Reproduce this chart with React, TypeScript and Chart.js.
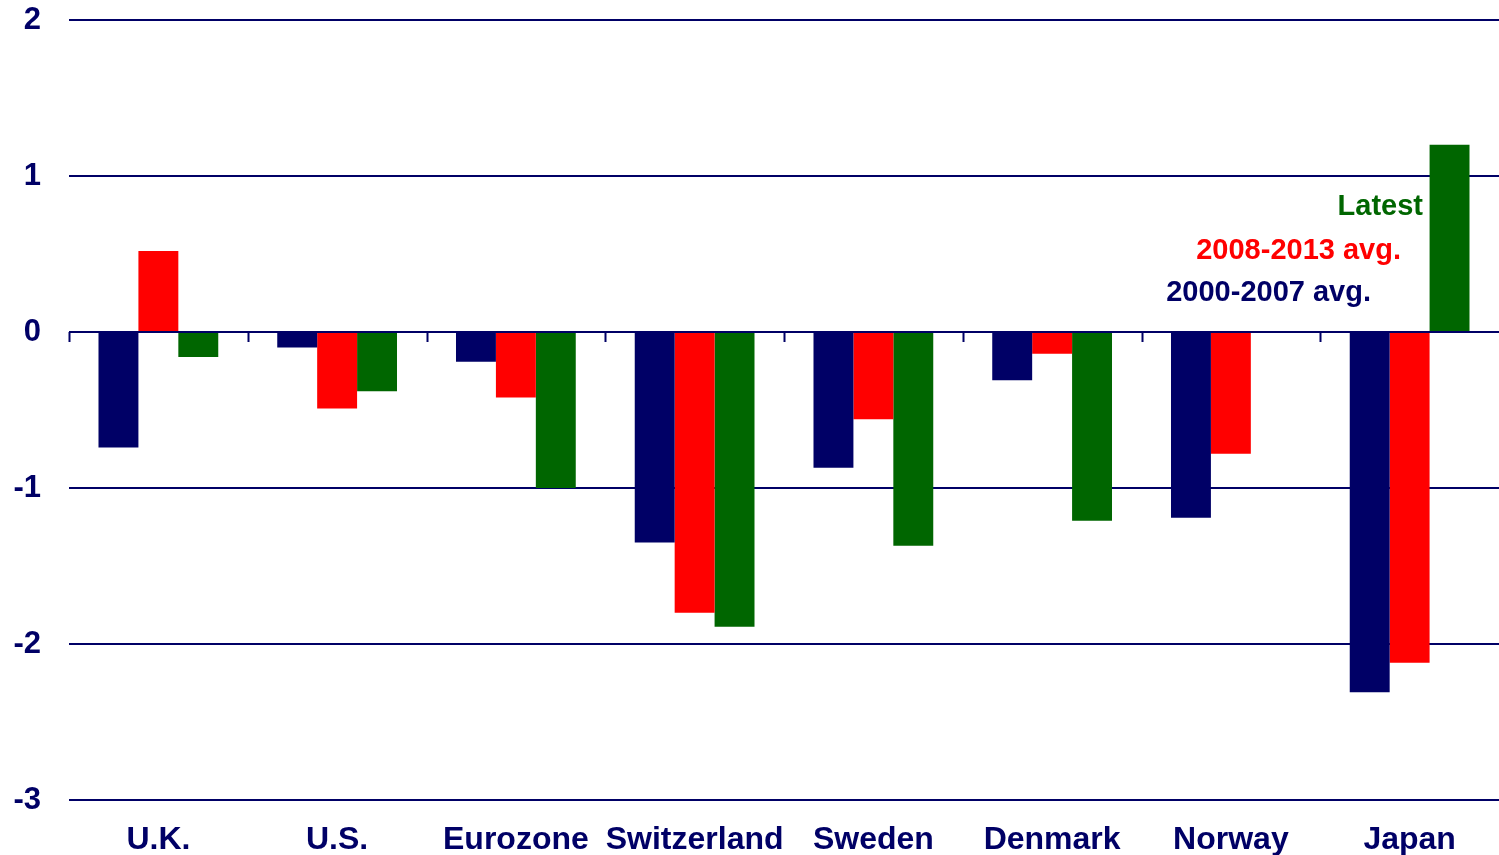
import React, { useEffect, useRef } from "react";
import { Chart, registerables } from "chart.js";

Chart.register(...registerables);

const categories = ["U.K.", "U.S.", "Eurozone", "Switzerland", "Sweden", "Denmark", "Norway", "Japan"];
const avg2000_2007 = [-0.74, -0.1, -0.19, -1.35, -0.87, -0.31, -1.19, -2.31];
const avg2008_2013 = [0.52, -0.49, -0.42, -1.8, -0.56, -0.14, -0.78, -2.12];
const latest = [-0.16, -0.38, -1.0, -1.89, -1.37, -1.21, null, 1.2];
const seriesNames = ["2000-2007 avg.", "2008-2013 avg.", "Latest"];
const yTicks = [2, 1, 0, -1, -2, -3];

const NAVY = "#000066";
const RED = "#FF0000";
const GREEN = "#006600";
const FONT = "Arial, 'Liberation Sans', sans-serif";

const zeroTicksPlugin = {
  id: "zeroTicks",
  afterDatasetsDraw(chart: any) {
    const { ctx, chartArea, scales } = chart;
    const y0 = scales.y.getPixelForValue(0);
    const n = categories.length;
    const w = (chartArea.right - chartArea.left) / n;
    ctx.save();
    ctx.strokeStyle = NAVY;
    ctx.lineWidth = 2;
    ctx.beginPath();
    ctx.moveTo(chartArea.left, y0);
    ctx.lineTo(chartArea.right, y0);
    for (let i = 0; i < n; i++) {
      const x = Math.round(chartArea.left + i * w) + 0.5;
      ctx.moveTo(x, y0);
      ctx.lineTo(x, y0 + 10);
    }
    ctx.stroke();
    ctx.restore();
  },
};

const legendTextPlugin = {
  id: "legendText",
  afterDraw(chart: any) {
    const { ctx, chartArea } = chart;
    const colors = [NAVY, RED, GREEN];
    const offsets = [
      { dx: 128, y: 293 },
      { dx: 98, y: 251 },
      { dx: 76, y: 207 },
    ];
    ctx.save();
    ctx.font = `bold 29px ${FONT}`;
    ctx.textAlign = "right";
    ctx.textBaseline = "middle";
    seriesNames.forEach((name, i) => {
      ctx.fillStyle = colors[i];
      ctx.fillText(name, chartArea.right - offsets[i].dx, offsets[i].y);
    });
    ctx.restore();
  },
};

export default function App() {
  const ref = useRef<HTMLCanvasElement>(null);
  useEffect(() => {
    document.body.style.margin = "0";
    const chart = new Chart(ref.current!, {
      type: "bar",
      data: {
        labels: categories,
        datasets: [
          { label: seriesNames[0], data: avg2000_2007, backgroundColor: NAVY },
          { label: seriesNames[1], data: avg2008_2013, backgroundColor: RED },
          { label: seriesNames[2], data: latest as any, backgroundColor: GREEN },
        ],
      },
      options: {
        animation: false,
        responsive: true,
        maintainAspectRatio: false,
        layout: { padding: { top: 20, right: 0, left: 0, bottom: 0 } },
        plugins: { legend: { display: false }, tooltip: { enabled: false } },
        datasets: { bar: { categoryPercentage: 0.67, barPercentage: 1.0 } },
        scales: {
          x: {
            grid: { display: false },
            border: { display: false },
            ticks: {
              color: NAVY,
              font: { family: FONT, size: 32, weight: "bold" },
              padding: 13,
              maxRotation: 0,
              autoSkip: false,
            },
            afterFit(scale: any) {
              scale.height = 55;
              scale.paddingLeft = 0;
              scale.paddingRight = 0;
            },
          },
          y: {
            min: -3,
            max: 2,
            afterBuildTicks(scale: any) {
              scale.ticks = yTicks.map((v) => ({ value: v }));
            },
            grid: { color: NAVY, lineWidth: 2, drawTicks: false },
            border: { display: false },
            ticks: {
              color: NAVY,
              font: { family: FONT, size: 31, weight: "bold" },
              padding: 28,
            },
            afterFit(scale: any) {
              scale.width = 69;
              scale.paddingTop = 0;
              scale.paddingBottom = 0;
            },
          },
        },
      },
      plugins: [zeroTicksPlugin, legendTextPlugin],
    });
    return () => chart.destroy();
  }, []);
  return (
    <div style={{ position: "fixed", left: 0, top: 0, width: 1499, height: 855 }}>
      <canvas ref={ref} />
    </div>
  );
}
